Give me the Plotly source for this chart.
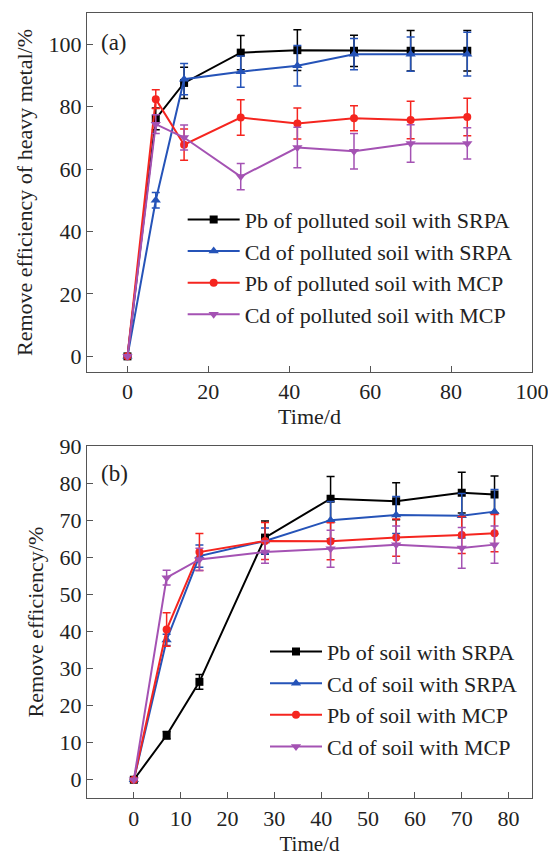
import plotly.graph_objects as go

# ---------- Panel (a) data ----------
time_a = [0, 7, 14, 28, 42, 56, 70, 84]
pb_srpa_a = [0, 76.1, 87.6, 97.3, 98.1, 97.9, 97.9, 97.9]
pb_srpa_a_err = [0, 3.5, 5.0, 5.5, 6.5, 5.0, 6.5, 6.5]
cd_srpa_a = [0, 50.0, 88.8, 91.2, 93.1, 96.8, 96.8, 96.8]
cd_srpa_a_err = [0, 2.5, 5.0, 5.0, 6.5, 5.0, 5.5, 7.0]
pb_mcp_a = [0, 82.4, 67.8, 76.5, 74.6, 76.3, 75.7, 76.7]
pb_mcp_a_err = [0, 3.0, 5.0, 5.7, 5.0, 4.0, 6.0, 6.0]
cd_mcp_a = [0, 74.4, 70.1, 57.6, 66.9, 65.7, 68.2, 68.2]
cd_mcp_a_err = [0, 3.0, 4.0, 4.2, 6.5, 5.7, 6.0, 5.0]

# ---------- Panel (b) data ----------
time_b = [0, 7, 14, 28, 42, 56, 70, 77]
pb_srpa_b = [0, 12.0, 26.4, 65.3, 75.8, 75.1, 77.4, 76.9]
pb_srpa_b_err = [0, 1.0, 2.0, 4.5, 6.0, 5.0, 5.5, 5.0]
cd_srpa_b = [0, 37.7, 60.3, 64.4, 70.0, 71.4, 71.2, 72.3]
cd_srpa_b_err = [0, 1.5, 3.0, 3.5, 5.0, 5.0, 6.0, 6.0]
pb_mcp_b = [0, 40.5, 61.4, 64.4, 64.3, 65.3, 66.0, 66.5]
pb_mcp_b_err = [0, 4.5, 5.0, 5.0, 5.0, 5.0, 5.0, 5.0]
cd_mcp_b = [0, 54.5, 59.4, 61.4, 62.3, 63.4, 62.5, 63.4]
cd_mcp_b_err = [0, 2.0, 3.0, 3.0, 5.0, 5.0, 5.5, 5.0]

names_a = ["Pb of polluted soil with SRPA", "Cd of polluted soil with SRPA",
           "Pb of polluted soil with MCP", "Cd of polluted soil with MCP"]
names_b = ["Pb of soil with SRPA", "Cd of soil with SRPA",
           "Pb of soil with MCP", "Cd of soil with MCP"]

colors = ["#000000", "#2553b8", "#f5251f", "#a452b3"]
symbols = ["square", "triangle-up", "circle", "triangle-down"]
msizes = [8, 9, 8, 9]

FONT = "Liberation Serif, Times New Roman, serif"
TXT = "#222222"

fig = go.Figure()

series_a = [(pb_srpa_a, pb_srpa_a_err), (cd_srpa_a, cd_srpa_a_err),
            (pb_mcp_a, pb_mcp_a_err), (cd_mcp_a, cd_mcp_a_err)]
series_b = [(pb_srpa_b, pb_srpa_b_err), (cd_srpa_b, cd_srpa_b_err),
            (pb_mcp_b, pb_mcp_b_err), (cd_mcp_b, cd_mcp_b_err)]

for i, (vals, errs) in enumerate(series_a):
    fig.add_trace(go.Scatter(
        x=time_a, y=vals, name=names_a[i], mode="lines+markers",
        line=dict(color=colors[i], width=2),
        marker=dict(symbol=symbols[i], size=msizes[i], color=colors[i]),
        error_y=dict(type="data", array=errs, visible=True, color=colors[i],
                     thickness=1.5, width=4),
        xaxis="x", yaxis="y", legend="legend"))

for i, (vals, errs) in enumerate(series_b):
    fig.add_trace(go.Scatter(
        x=time_b, y=vals, name=names_b[i], mode="lines+markers",
        line=dict(color=colors[i], width=2),
        marker=dict(symbol=symbols[i], size=msizes[i], color=colors[i]),
        error_y=dict(type="data", array=errs, visible=True, color=colors[i],
                     thickness=1.5, width=4),
        xaxis="x2", yaxis="y2", legend="legend2"))

axis_common = dict(showline=True, linecolor="#555555", linewidth=1.2, mirror=True,
                   ticks="inside", ticklen=6, tickcolor="#555555", tickwidth=1,
                   showgrid=False, zeroline=False, automargin=False,
                   ticklabeloverflow="allow",
                   tickfont=dict(family=FONT, size=22, color=TXT))

title_font = dict(family=FONT, size=22, color=TXT)

fig.update_layout(
    width=548, height=857,
    margin=dict(l=87, r=16, t=13, b=54),
    paper_bgcolor="white", plot_bgcolor="white",
    font=dict(family=FONT, size=22, color=TXT),
    xaxis=dict(domain=[0, 1], anchor="y", range=[-10, 100], tickvals=[0, 20, 40, 60, 80, 100],
               title=dict(text="Time/d", standoff=4, font=title_font),
               **axis_common),
    yaxis=dict(domain=[0.5456, 1], anchor="x", range=[-5, 110], tickvals=[0, 20, 40, 60, 80, 100],
               title=dict(text="Remove efficiency of heavy metal/%", standoff=9,
                          font=title_font),
               **axis_common),
    xaxis2=dict(domain=[0, 1], anchor="y2", range=[-10, 85], tickvals=list(range(0, 81, 10)),
                title=dict(text="Time/d", standoff=6, font=dict(family=FONT, size=21, color=TXT)),
                **axis_common),
    yaxis2=dict(domain=[0.006, 0.4519], anchor="x2", range=[-5, 90], tickvals=list(range(0, 91, 10)),
                title=dict(text="Remove efficiency/%", standoff=9, font=title_font),
                **axis_common),
    legend=dict(x=0.215, y=0.765, xanchor="left", yanchor="top", bgcolor="rgba(0,0,0,0)",
                font=dict(family=FONT, size=22, color=TXT), tracegroupgap=0,
                itemwidth=52),
    legend2=dict(x=0.40, y=0.218, xanchor="left", yanchor="top", bgcolor="rgba(0,0,0,0)",
                 font=dict(family=FONT, size=22, color=TXT), tracegroupgap=0,
                 itemwidth=52),
    annotations=[
        dict(text="(a)", xref="x domain", yref="paper", x=0.027, y=(803 - 43) / 790,
             xanchor="left", yanchor="middle", showarrow=False,
             font=dict(family=FONT, size=23, color=TXT)),
        dict(text="(b)", xref="x2 domain", yref="paper", x=0.027, y=(803 - 473) / 790,
             xanchor="left", yanchor="middle", showarrow=False,
             font=dict(family=FONT, size=23, color=TXT)),
    ],
)

# Remove the default 8px page margin so the figure fills the window exactly.
fig.write_html("out.html", config={"displayModeBar": False},
               post_script="document.body.style.margin='0';")
